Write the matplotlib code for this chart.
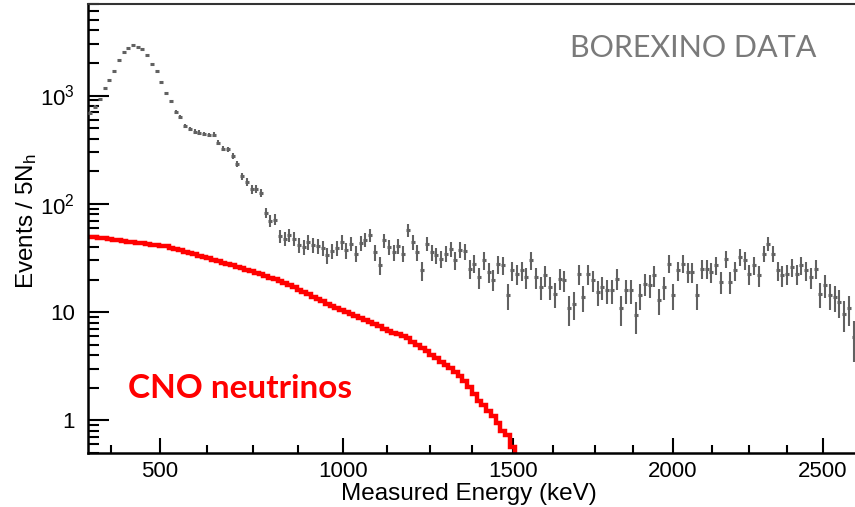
import numpy as np
import matplotlib
matplotlib.use("Agg")
import matplotlib.pyplot as plt
from matplotlib.ticker import FixedLocator, FuncFormatter, LogLocator, NullFormatter

plt.rcParams['font.family'] = ['Liberation Sans', 'DejaVu Sans']
plt.rcParams['mathtext.fontset'] = 'custom'
plt.rcParams['mathtext.rm'] = 'Liberation Sans'
plt.rcParams['mathtext.it'] = 'Liberation Sans:italic'

# binning in number of hit PMTs (5 Nh per bin)
nh_lo = 90
nh_hi = 910
bin_w = 5

# energy calibration of the Nh axis (keV -> Nh)
cal_kev = [375, 500, 625, 750, 875, 1000, 1125, 1250, 1375, 1500,
           1625, 1750, 1875, 2000, 2125, 2250, 2375, 2500]
cal_nh = [114.3, 165.9, 215.5, 264.0, 311.5, 359.0, 405.0, 450.8, 494.7, 538.3,
          580.5, 624.8, 664.9, 707.1, 747.9, 787.3, 827.0, 865.3]
major_kev = [500, 1000, 1500, 2000, 2500]

# Borexino data, events per 5 Nh
data_counts = [
    697, 781, 926, 1170, 1380, 1670, 2140, 2530, 2740, 2940,
    2820, 2700, 2360, 1950, 1670, 1330, 1050, 888, 706, 640,
    521, 489, 465, 455, 443, 433, 436, 368, 324, 320,
    277, 232, 180, 159, 136, 138, 126, 82.8, 69.8, 71.6,
    50.2, 47.8, 51.3, 47.8, 41.4, 40.0, 44.5, 41.4, 40.5, 39.4,
    33.5, 36.7, 38.9, 44.5, 37.2, 42.9, 34.7, 43.5, 46.8, 51.3,
    35.9, 27.1, 46.1, 40.0, 35.9, 40.5, 34.7, 57.0, 44.5, 35.9,
    24.3, 42.9, 35.9, 33.5, 31.2, 34.7, 38.6, 30.1, 37.8, 36.5,
    25.2, 28.1, 21.1, 30.1, 23.5, 20.0, 27.7, 27.1, 14.3, 24.3,
    22.7, 24.3, 21.1, 30.1, 21.1, 17.1, 21.9, 17.1, 14.8, 20.4,
    19.7, 10.8, 12.0, 22.7, 13.8, 22.4, 19.7, 15.3, 17.1, 15.9,
    15.9, 20.4, 10.8, 15.9, 15.9, 9.34, 14.3, 18.3, 17.7, 21.9,
    12.9, 17.1, 28.1, 14.3, 24.3, 28.1, 23.5, 23.5, 14.3, 25.2,
    25.2, 23.5, 27.1, 19.0, 31.2, 19.0, 24.3, 32.3, 30.1, 22.7,
    27.1, 21.9, 34.7, 42.9, 34.7, 24.3, 21.9, 22.7, 26.1, 22.7,
    27.1, 24.3, 21.1, 25.2, 14.8, 17.7, 14.3, 13.8, 12.4, 9.68,
    10.8, 5.89,
]

# CNO neutrino component, events per 5 Nh
cno_counts = [
    49.8, 49.1, 48.5, 47.9, 47.3, 46.7, 46.1, 45.4, 44.8, 44.2,
    43.7, 43.1, 42.6, 42.0, 41.5, 41.0, 40.5, 39.3, 38.2, 37.2,
    36.1, 35.1, 34.1, 33.1, 32.2, 31.3, 30.4, 29.5, 28.7, 27.9,
    27.1, 26.3, 25.4, 24.6, 23.8, 23.0, 22.3, 21.5, 20.8, 20.1,
    19.5, 18.6, 17.7, 16.9, 16.1, 15.3, 14.6, 13.9, 13.2, 12.6,
    12.0, 11.5, 10.9, 10.4, 9.96, 9.55, 9.15, 8.77, 8.40, 8.05,
    7.71, 7.39, 6.96, 6.72, 6.47, 6.24, 6.00, 5.74, 5.35, 4.99,
    4.65, 4.33, 4.04, 3.75, 3.48, 3.24, 3.03, 2.81, 2.59, 2.29,
    2.03, 1.75, 1.51, 1.39, 1.23, 1.09, 0.94, 0.80, 0.73, 0.57,
    0.1,
]

data_counts = np.array(data_counts)
centers = nh_lo + bin_w * (np.arange(len(data_counts)) + 0.5)
errs = np.sqrt(data_counts)
cno_edges = nh_lo + bin_w * np.arange(len(cno_counts) + 1)

fig = plt.figure(figsize=(8.55, 5.07), dpi=100)
ax = fig.add_axes([0.1029, 0.1065, 0.9093, 0.8856])

gray = '#616161'
ax.errorbar(centers, data_counts, yerr=errs, fmt='none', ecolor=gray,
            elinewidth=1.5, capsize=0, zorder=3)
ax.plot(centers, data_counts, ls='none', marker='_', ms=3.5, mew=2.2,
        color=gray, zorder=4)

ax.stairs(cno_counts, cno_edges, color='#ff0000', lw=3.2, baseline=None, zorder=2)

ax.set_yscale('log')
ax.set_xlim(nh_lo, nh_hi)
ax.set_ylim(0.5, 7000)

# x axis labelled in energy
major_nh = np.interp(major_kev, cal_kev, cal_nh)
minor_nh = [n for k, n in zip(cal_kev, cal_nh) if k not in major_kev]
ax.xaxis.set_major_locator(FixedLocator(major_nh))
ax.xaxis.set_minor_locator(FixedLocator(minor_nh))
ax.set_xticklabels([str(k) for k in major_kev])

ax.yaxis.set_major_locator(LogLocator(base=10, numticks=10))
ax.yaxis.set_minor_locator(LogLocator(base=10, subs=np.arange(2, 10), numticks=20))
ax.yaxis.set_minor_formatter(NullFormatter())


def dec_label(v, pos):
    if v < 5:
        return '1'
    if v < 50:
        return '10'
    return r'$10^{%d}$' % round(np.log10(v))


ax.yaxis.set_major_formatter(FuncFormatter(dec_label))

ax.tick_params(axis='both', which='both', direction='in', labelsize=16, width=1.5,
               top=False, right=False)
ax.tick_params(axis='y', which='major', length=15, pad=9.5)
ax.tick_params(axis='y', which='minor', length=8)
ax.tick_params(axis='x', which='major', length=11, pad=6)
ax.tick_params(axis='x', which='minor', length=5.5)
for side in ['left', 'bottom']:
    ax.spines[side].set_linewidth(1.8)
ax.spines['top'].set_linewidth(1.5)
ax.spines['top'].set_color('#333333')

fig.text(469 / 855, 1 - 494 / 507, 'Measured Energy (keV)', fontsize=17.5,
         ha='center', va='center')
fig.text(27 / 855, 1 - 221 / 507, r'Events / 5N$_{\mathrm{h}}$', fontsize=17.5,
         rotation=90, ha='center', va='center')

fig.text(570 / 855, 1 - 48 / 507, 'BOREXINO DATA', fontsize=22, color='#7a7a7a',
         family='Lato', ha='left', va='center')
fig.text(128 / 855, 1 - 388 / 507, 'CNO neutrinos', fontsize=24, color='#ff0000',
         family='Lato', fontweight='bold', ha='left', va='center')

fig.savefig('out.png', dpi=100)
